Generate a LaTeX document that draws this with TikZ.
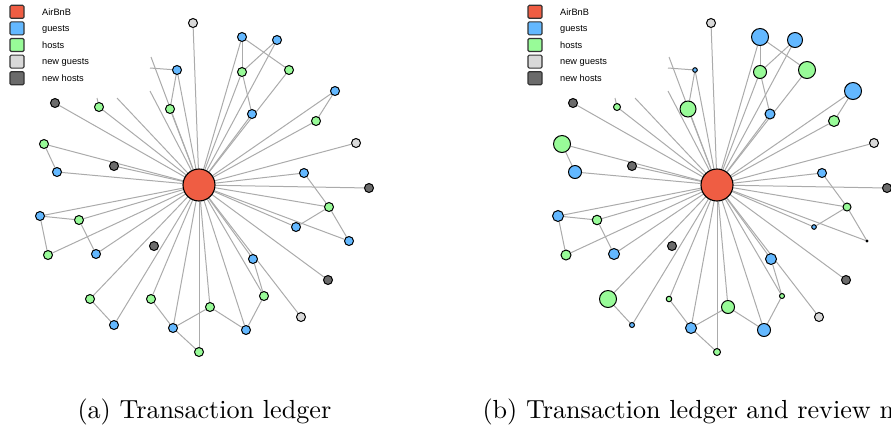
\documentclass[tikz,border=0pt]{standalone}
\usepackage{fontspec}
\newfontfamily\legendfont{Liberation Sans}
\usetikzlibrary{backgrounds}
\definecolor{cAir}{HTML}{EF5D43}
\definecolor{cGuest}{HTML}{63B8FF}
\definecolor{cHost}{HTML}{98FB98}
\definecolor{cNewGuest}{HTML}{D9D9D9}
\definecolor{cNewHost}{HTML}{6B6B6B}
\definecolor{cEdge}{HTML}{ABABAB}

% nodes: name/x/y/colour/diameter in (b)
\def\netnodes{n1/193/23/cNewGuest/9, g1/242/37/cGuest/17, g2/277/40/cGuest/15,
  h1/242/72/cHost/13, h2/289/70/cHost/17, g3/252/114/cGuest/10,
  g4/335/91/cGuest/17, h3/316/121/cHost/11, n2/356/143/cNewGuest/9,
  g5/304/173/cGuest/9, d1/369/188/cNewHost/9, h4/329/207/cHost/8,
  g6/296/227/cGuest/4.6, g7/349/241/cGuest/2, g8/253/259/cGuest/11,
  d2/328/280/cNewHost/9, h5/264/296/cHost/5, n3/301/317/cNewGuest/9,
  h6/210/307/cHost/13, g9/246/330/cGuest/13, h7/199/352/cHost/7,
  g10/173/328/cGuest/11, h8/151/299/cHost/5.5, g11/114/325/cGuest/5,
  h9/90/299/cHost/17, d3/154/246/cNewHost/9, g12/96/254/cGuest/11,
  h10/48/255/cHost/10, h11/79/220/cHost/9.5, g13/40/216/cGuest/11,
  g14/57/172/cGuest/13, h12/44/144/cHost/17, d4/114/166/cNewHost/9,
  d5/55/103/cNewHost/9, h13/99/107/cHost/7, h14/170/109/cHost/16,
  g15/177/70/cGuest/4.6}
% loose edge ends
\def\netends{e1/151/57, e2/150/68, e3/150/91, e4/97/98, e5/117/98}
\def\hubedges{n1,g1,g2,h1,h2,g3,g4,h3,n2,g5,d1,h4,g6,g7,g8,d2,h5,n3,h6,g9,h7,
  g10,h8,g11,h9,g12,h10,h11,g13,g14,h12,d4,d5,h13,h14,g15,e1,e3,e5}
\def\netedges{g1/h1, g1/h2, g2/h1, h1/g3, g4/h3, g5/h4, h4/g6, h4/g7, g8/h5,
  h5/g9, h6/g9, h6/g10, g10/h7, h8/g10, h9/g11, g13/h11, g13/h10, h11/g12,
  h12/g14, e2/g15, g15/h14, e4/h13}

\begin{document}
\begin{tikzpicture}[
  x=0.4pt, y=-0.4pt,
  vert/.style={circle, draw=black, line width=0.4pt, inner sep=0pt, fill=#1},
  air/.style={circle, draw=black, line width=0.45pt, inner sep=0pt, fill=cAir, minimum size=12.8pt},
  link/.style={draw=cEdge, line width=0.4pt},
  key/.style={rectangle, rounded corners=0.5pt, draw=black!80, line width=0.45pt,
              minimum width=5.6pt, minimum height=5.2pt, inner sep=0pt, fill=#1},
  keylab/.style={font=\legendfont\fontsize{3.7}{4.4}\selectfont, anchor=base west, inner sep=0pt},
  captext/.style={font=\fontsize{10.46}{12.5}\selectfont, anchor=base west, inner sep=0pt},
]
\useasboundingbox (0,0) rectangle (891,428);

% ---- legends ----
\foreach \p/\dx in {a/0,b/518}
  \foreach \k/\c/\t [count=\i] in {air/cAir/AirBnB, guest/cGuest/guests, host/cHost/hosts,
                                   newguest/cNewGuest/new guests, newhost/cNewHost/new hosts} {
    \node[key=\c] (\p-key-\k) at ({17+\dx},{11.8+16.6*(\i-1)}) {};
    \node[keylab] (\p-lab-\k) at ({41.7+\dx},{15.1+16.6*(\i-1)}) {\t};
  }

% ---- (a) transaction ledger ----
\node[air] (a-air) at (199,185) {};
\foreach \n/\x/\y/\c/\d in \netnodes
  \node[vert=\c, minimum size=3.6pt] (a-\n) at (\x,\y) {};
\foreach \n/\x/\y in \netends \coordinate (a-\n) at (\x,\y);

% ---- (b) transaction ledger and reviews ----
\node[air] (b-air) at (717,185) {};
\foreach \n/\x/\y/\c/\d in \netnodes
  \node[vert=\c, minimum size={\d*0.4pt}] (b-\n) at ({\x+518},\y) {};
\foreach \n/\x/\y in \netends \coordinate (b-\n) at ({\x+518},\y);

% ---- edges ----
\begin{scope}[on background layer]
\foreach \p in {a,b} {
  \foreach \n in \hubedges \draw[link] (\p-air) -- (\p-\n);
  \foreach \u/\v in \netedges \draw[link] (\p-\u) -- (\p-\v);
}
\end{scope}

% ---- captions ----
\node[captext] (a-cap) at (77,418.5) {(a) Transaction ledger};
\node[captext] (b-cap) at (482,418.5) {(b) Transaction ledger and review network};

\end{tikzpicture}
\end{document}
